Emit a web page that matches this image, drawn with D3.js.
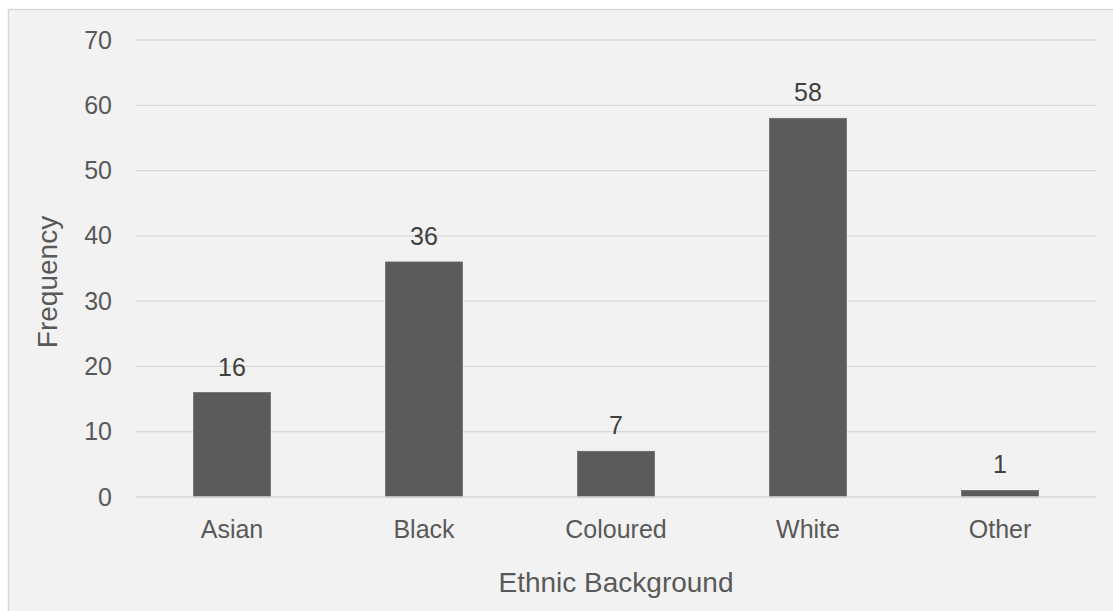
<!DOCTYPE html>
<html>
<head>
<meta charset="utf-8">
<script src="https://cdn.jsdelivr.net/npm/d3@7"></script>
<style>
  html, body { margin: 0; padding: 0; background: #ffffff; }
  svg { display: block; font-family: "Liberation Sans", Arial, sans-serif; }
</style>
</head>
<body>
<svg id="chart" width="1113" height="611"></svg>
<script>
// Ethnic background frequencies
const categories = ["Asian", "Black", "Coloured", "White", "Other"];
const frequencies = [16, 36, 7, 58, 1];
const yTicks = [0, 10, 20, 30, 40, 50, 60, 70];

const svg = d3.select("#chart");
const W = 1113, H = 611;

// chart area panel
svg.append("rect")
  .attr("x", 8.5).attr("y", 9.5)
  .attr("width", W + 10).attr("height", H + 10)
  .attr("fill", "#f2f2f2")
  .attr("stroke", "#d9d9d9")
  .attr("stroke-width", 1.5);

const plot = { left: 136, right: 1096, top: 40, bottom: 497 };

const x = d3.scaleBand()
  .domain(categories)
  .range([plot.left, plot.right])
  .paddingInner(0.6)
  .paddingOuter(0.3);

const y = d3.scaleLinear()
  .domain([0, 70])
  .range([plot.bottom, plot.top]);

// horizontal gridlines
svg.append("g")
  .selectAll("line")
  .data(yTicks.filter(d => d !== 0))
  .join("line")
  .attr("x1", plot.left).attr("x2", plot.right)
  .attr("y1", d => y(d)).attr("y2", d => y(d))
  .attr("stroke", "#d9d9d9")
  .attr("stroke-width", 1.3);

// y tick labels
const yAxis = d3.axisLeft(y).tickValues(yTicks).tickSize(0).tickPadding(0);
const gy = svg.append("g")
  .attr("transform", `translate(112,0)`)
  .call(yAxis);
gy.select(".domain").remove();
gy.selectAll("text")
  .attr("fill", "#595959")
  .attr("font-size", 25)
  .attr("font-family", "Liberation Sans, Arial, sans-serif");

// bars
svg.append("g")
  .selectAll("rect")
  .data(categories)
  .join("rect")
  .attr("x", d => x(d))
  .attr("width", x.bandwidth())
  .attr("y", (d, i) => y(frequencies[i]))
  .attr("height", (d, i) => y(0) - y(frequencies[i]))
  .attr("fill", "#5b5b5b")
  .attr("stroke", "#6a6a6a")
  .attr("stroke-width", 0.8);

// x axis baseline
svg.append("line")
  .attr("x1", plot.left).attr("x2", plot.right)
  .attr("y1", y(0)).attr("y2", y(0))
  .attr("stroke", "#d9d9d9")
  .attr("stroke-width", 1.3);

// x category labels
const xAxis = d3.axisBottom(x).tickSize(0).tickPadding(0);
const gx = svg.append("g")
  .attr("transform", `translate(0,538)`)
  .call(xAxis);
gx.select(".domain").remove();
gx.selectAll("text")
  .attr("dy", 0)
  .attr("fill", "#595959")
  .attr("font-size", 25)
  .attr("font-family", "Liberation Sans, Arial, sans-serif");

// value labels above bars
svg.append("g")
  .selectAll("text")
  .data(categories)
  .join("text")
  .attr("x", d => x(d) + x.bandwidth() / 2)
  .attr("y", (d, i) => y(frequencies[i]) - 17)
  .attr("text-anchor", "middle")
  .attr("fill", "#404040")
  .attr("font-size", 25)
  .text((d, i) => frequencies[i]);

// axis titles
svg.append("text")
  .attr("x", (plot.left + plot.right) / 2)
  .attr("y", 592)
  .attr("text-anchor", "middle")
  .attr("fill", "#595959")
  .attr("font-size", 28)
  .text("Ethnic Background");

svg.append("text")
  .attr("transform", `translate(57,282) rotate(-90)`)
  .attr("text-anchor", "middle")
  .attr("fill", "#595959")
  .attr("font-size", 28)
  .text("Frequency");
</script>
</body>
</html>
